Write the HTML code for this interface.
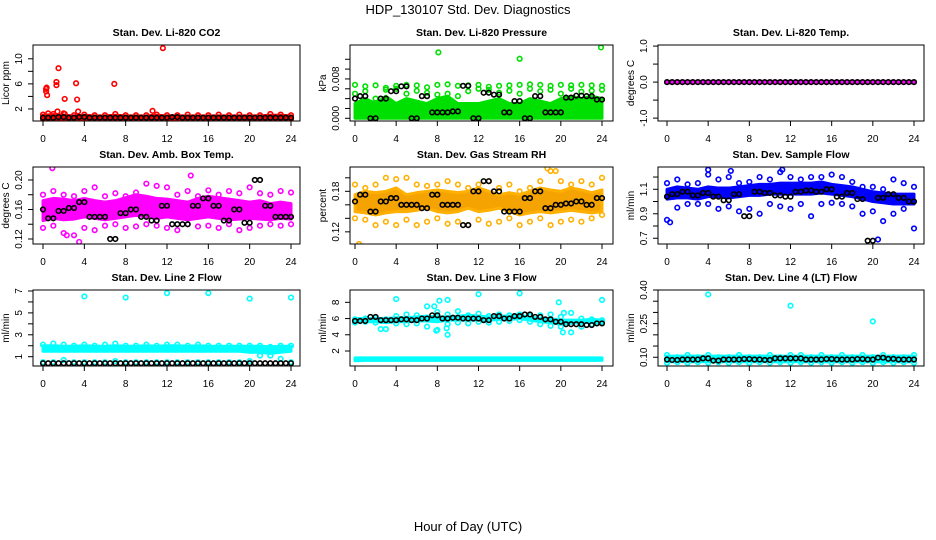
<!DOCTYPE html>
<html><head><meta charset="utf-8">
<style>
html,body{margin:0;padding:0;background:#fff;}
svg{display:block;font-family:"Liberation Sans",Arial,sans-serif;}
</style></head>
<body>
<svg id="chart" width="936" height="540" viewBox="0 0 936 540" xmlns="http://www.w3.org/2000/svg">
<text x="468" y="14" font-size="13" text-anchor="middle">HDP_130107  Std. Dev. Diagnostics</text>
<text x="468" y="531" font-size="13" text-anchor="middle">Hour of Day (UTC)</text>
</svg>
<script>
const hours = [0,1,2,3,4,5,6,7,8,9,10,11,12,13,14,15,16,17,18,19,20,21,22,23,24];
const xTicks = [0,4,8,12,16,20,24];

// Panel 1: CO2
const co2BandLo = [0.3,0.3,0.3,0.3,0.3,0.3,0.3,0.3,0.3,0.3,0.3,0.3,0.3,0.3,0.3,0.3,0.3,0.3,0.3,0.3,0.3,0.3,0.3,0.3,0.3];
const co2BandHi = [1.0,1.1,1.0,0.9,1.0,0.9,0.9,1.0,0.9,0.9,0.9,1.0,0.9,0.9,0.9,0.9,0.9,0.9,0.9,0.9,0.9,0.9,1.0,1.0,0.9];
const co2ScatA = [1.1,1.2,1.3,1.0,1.1,1.0,1.0,1.2,1.0,1.0,1.0,1.1,1.0,1.0,1.1,1.0,1.0,1.1,1.0,1.1,1.0,1.0,1.2,1.1,1.0];
const co2ScatB = [0.4,0.4,0.4,0.4,0.4,0.4,0.4,0.4,0.4,0.4,0.4,0.4,0.4,0.4,0.4,0.4,0.4,0.4,0.4,0.4,0.4,0.4,0.4,0.4,0.4];
const co2Black = [0.6,0.6,0.7,0.6,0.7,0.6,0.6,0.6,0.6,0.6,0.6,0.6,0.6,0.7,0.6,0.6,0.6,0.6,0.6,0.6,0.6,0.6,0.6,0.6,0.6];
const co2OutX = [0.3,0.3,0.35,0.4,1.3,1.3,1.5,2.1,3.2,3.3,1.4,3.4,6.9,10.6,11.6,2.1,0.5];
const co2OutY = [5.2,4.8,5.4,4.2,6.3,5.8,8.5,3.6,6.1,3.5,1.6,1.6,6.0,1.7,11.7,1.2,1.3];

// Panel 2: Pressure
const prBandLo = [0,0,0,0,0,0,0,0,0,0,0,0,0,0,0,0,0,0,0,0,0,0,0,0,0];
const prBandHi = [0.003,0.004,0.003,0.0045,0.003,0.004,0.0035,0.003,0.004,0.0045,0.003,0.003,0.003,0.0035,0.004,0.003,0.003,0.004,0.0035,0.003,0.004,0.0045,0.004,0.0045,0.004];
const prScatA = [0.0068,0.0065,0.0067,0.0062,0.0066,0.0068,0.0067,0.0063,0.0068,0.0069,0.0066,0.0067,0.0068,0.0064,0.0066,0.0067,0.0068,0.0069,0.0068,0.0066,0.0068,0.0067,0.0068,0.0067,0.0066];
const prScatB = [0.005,0.0055,0.004,0.0058,0.006,0.005,0.0056,0.0052,0.0048,0.005,0.0045,0.0055,0.006,0.0058,0.0052,0.0056,0.005,0.006,0.0055,0.0058,0.005,0.006,0.0054,0.0056,0.0058];
const prBlack = [0.004,0.0045,0,0.004,0.0055,0.0065,0,0.0045,0.0012,0.0012,0.0014,0.0066,0,0.0052,0.0048,0.0012,0.0035,0,0.0045,0.0012,0.0012,0.0042,0.0046,0.0045,0.0038];
const prOutX = [8.1,16,23.9];
const prOutY = [0.0134,0.0121,0.0144];

// Panel 3: Temp
const tpBandLo = [-0.02,-0.02,-0.02,-0.02,-0.02,-0.02,-0.02,-0.02,-0.02,-0.02,-0.02,-0.02,-0.02,-0.02,-0.02,-0.02,-0.02,-0.02,-0.02,-0.02,-0.02,-0.02,-0.02,-0.02,-0.02];
const tpBandHi = [0.02,0.02,0.02,0.02,0.02,0.02,0.02,0.02,0.02,0.02,0.02,0.02,0.02,0.02,0.02,0.02,0.02,0.02,0.02,0.02,0.02,0.02,0.02,0.02,0.02];
const tpBlack = [0,0,0,0,0,0,0,0,0,0,0,0,0,0,0,0,0,0,0,0,0,0,0,0,0];

// Panel 4: Amb box temp
const abBandLo = [0.145,0.148,0.146,0.147,0.15,0.148,0.146,0.148,0.15,0.152,0.15,0.148,0.15,0.148,0.146,0.148,0.15,0.148,0.146,0.147,0.148,0.147,0.146,0.148,0.147];
const abBandHi = [0.172,0.175,0.174,0.172,0.175,0.172,0.17,0.172,0.176,0.18,0.178,0.175,0.174,0.172,0.17,0.175,0.178,0.176,0.174,0.172,0.17,0.172,0.168,0.17,0.168];
const abScatA = [0.18,0.185,0.18,0.178,0.185,0.19,0.178,0.182,0.178,0.183,0.195,0.192,0.19,0.18,0.185,0.178,0.186,0.18,0.185,0.182,0.19,0.182,0.18,0.185,0.183];
const abScatB = [0.135,0.138,0.128,0.125,0.135,0.132,0.138,0.14,0.135,0.137,0.14,0.138,0.135,0.132,0.14,0.137,0.138,0.135,0.14,0.132,0.135,0.138,0.14,0.138,0.14];
const abBlack = [0.16,0.148,0.158,0.162,0.17,0.15,0.15,0.12,0.155,0.16,0.15,0.145,0.165,0.14,0.14,0.165,0.175,0.165,0.145,0.16,0.142,0.2,0.165,0.15,0.15];
const abOutX = [0.9,14.3,3.5,2.3];
const abOutY = [0.216,0.206,0.116,0.125];

// Panel 5: RH
const rhBandLo = [0.15,0.148,0.145,0.148,0.15,0.15,0.152,0.155,0.15,0.148,0.15,0.155,0.15,0.152,0.155,0.15,0.145,0.148,0.15,0.148,0.15,0.152,0.15,0.148,0.15];
const rhBandHi = [0.175,0.18,0.178,0.18,0.185,0.175,0.178,0.18,0.182,0.18,0.178,0.18,0.185,0.18,0.175,0.178,0.175,0.18,0.185,0.182,0.18,0.185,0.182,0.178,0.182];
const rhScatA = [0.19,0.185,0.19,0.2,0.198,0.2,0.19,0.188,0.19,0.195,0.19,0.185,0.19,0.195,0.185,0.19,0.18,0.185,0.195,0.21,0.195,0.19,0.195,0.19,0.2];
const rhScatB = [0.14,0.138,0.13,0.135,0.13,0.138,0.13,0.135,0.14,0.132,0.135,0.13,0.138,0.132,0.135,0.14,0.13,0.135,0.14,0.13,0.135,0.138,0.135,0.14,0.145];
const rhBlack = [0.165,0.175,0.15,0.165,0.17,0.16,0.16,0.155,0.175,0.16,0.16,0.13,0.18,0.195,0.18,0.15,0.15,0.17,0.18,0.155,0.16,0.162,0.165,0.16,0.17];
const rhOutX = [0.4,18.7,19.5];
const rhOutY = [0.102,0.214,0.21];

// Panel 6: Sample flow
const sfBandLo = [1.02,1.03,1.03,1.02,1.04,1.04,1.03,1.04,1.05,1.05,1.06,1.06,1.06,1.06,1.06,1.07,1.06,1.05,1.04,1.02,1.0,0.99,0.98,0.98,0.98];
const sfBandHi = [1.1,1.12,1.11,1.1,1.12,1.11,1.11,1.12,1.13,1.14,1.14,1.15,1.15,1.15,1.15,1.16,1.14,1.13,1.12,1.1,1.08,1.07,1.06,1.06,1.06];
const sfScatA = [1.15,1.18,1.14,1.15,1.22,1.18,1.2,1.15,1.16,1.2,1.18,1.24,1.2,1.18,1.2,1.2,1.22,1.2,1.16,1.12,1.12,1.1,1.18,1.15,1.12];
const sfScatB = [0.85,0.95,0.98,0.98,0.98,0.94,0.96,0.92,0.94,0.9,0.98,0.96,0.94,0.98,0.88,0.98,0.99,0.98,0.96,0.9,0.92,0.84,0.9,0.94,0.78];
const sfBlack = [1.04,1.06,1.08,1.05,1.07,1.04,1.01,1.06,0.88,1.08,1.07,1.05,1.04,1.08,1.09,1.08,1.1,1.04,1.07,1.02,0.68,1.03,1.06,1.03,1.0];
const sfOutX = [4,6.2,11.2,0.3,20.5];
const sfOutY = [1.26,1.25,1.26,0.83,0.69];

// Panel 7: Line 2 flow
const l2BandLo = [1.5,1.5,1.5,1.5,1.5,1.5,1.5,1.5,1.5,1.5,1.5,1.5,1.5,1.5,1.5,1.5,1.5,1.5,1.5,1.5,1.4,1.4,1.3,1.4,1.5];
const l2BandHi = [2.0,2.0,1.95,1.95,2.0,1.95,1.95,2.0,1.95,1.95,2.0,1.95,2.0,2.0,1.95,2.0,1.95,1.95,1.95,1.95,1.95,1.95,1.9,1.95,1.95];
const l2ScatA = [2.1,2.2,2.1,2.0,2.1,2.0,2.1,2.2,2.0,2.0,2.1,2.0,2.1,2.1,2.0,2.1,2.0,2.0,2.0,2.0,2.0,2.0,1.9,2.0,2.0];
const l2ScatB = [0.5,0.5,0.7,0.5,0.5,0.5,0.5,0.6,0.5,0.5,0.5,0.5,0.5,0.5,0.5,0.5,0.5,0.5,0.5,0.5,0.6,1.1,1.1,0.8,0.5];
const l2Black = [0.4,0.4,0.4,0.4,0.4,0.4,0.4,0.4,0.4,0.4,0.4,0.4,0.4,0.4,0.4,0.4,0.4,0.4,0.4,0.4,0.4,0.4,0.4,0.4,0.4];
const l2OutX = [4,8,12,16,20,24];
const l2OutY = [6.5,6.4,6.8,6.8,6.3,6.4];

// Panel 8: Line 3 flow
const l3BandLo = [5.6,5.6,5.6,5.5,5.6,5.6,5.7,5.7,5.6,5.8,5.8,5.8,5.8,5.8,5.9,5.9,6.0,5.8,5.6,5.5,5.3,5.4,5.5,5.5,5.4];
const l3BandHi = [6.0,6.0,6.0,6.0,6.1,6.1,6.2,6.3,6.2,6.2,6.3,6.4,6.3,6.2,6.3,6.3,6.4,6.2,6.0,6.0,5.8,5.8,5.8,5.9,5.8];
const l3ScatA = [5.9,6.0,6.1,5.9,6.3,6.5,6.4,7.5,6.8,6.5,6.9,6.4,6.6,6.3,6.5,6.4,6.5,6.3,6.4,6.5,6.2,6.7,6.0,5.9,5.8];
const l3ScatB = [5.5,5.6,5.5,4.7,5.4,5.3,5.4,5.0,4.6,5.3,5.5,5.4,5.6,5.5,5.6,5.7,5.8,5.6,5.3,5.1,5.0,4.3,5.0,5.3,5.5];
const l3Black = [5.7,5.7,6.2,5.8,5.8,5.9,5.8,6.0,6.4,6.0,6.1,6.0,6.0,5.8,6.3,6.0,6.3,6.5,6.2,5.9,5.6,5.3,5.3,5.2,5.4];
const l3LowLo = [0.8,0.85,0.85,0.85,0.85,0.85,0.85,0.85,0.85,0.85,0.85,0.85,0.85,0.85,0.85,0.85,0.85,0.85,0.85,0.85,0.85,0.85,0.85,0.85,0.85];
const l3LowHi = [1.15,1.15,1.15,1.15,1.15,1.15,1.15,1.15,1.15,1.15,1.15,1.15,1.15,1.15,1.15,1.15,1.15,1.15,1.15,1.15,1.15,1.15,1.15,1.15,1.15];
const l3OutX = [4,7.7,7.9,8.2,8.9,9.0,9.0,12,16,19.8,20.3,20.2,24,2.5];
const l3OutY = [8.4,7.5,4.5,8.2,4.8,4.0,8.3,9.0,9.1,8.0,6.7,4.3,8.3,4.7];

// Panel 9: Line 4 flow
const l4BandLo = [0.08,0.08,0.08,0.08,0.08,0.08,0.08,0.08,0.08,0.08,0.08,0.08,0.08,0.08,0.08,0.08,0.08,0.08,0.08,0.08,0.08,0.08,0.08,0.08,0.08];
const l4BandHi = [0.105,0.105,0.105,0.105,0.105,0.105,0.105,0.105,0.105,0.105,0.105,0.105,0.105,0.105,0.105,0.105,0.105,0.105,0.105,0.105,0.105,0.105,0.105,0.105,0.105];
const l4ScatA = [0.11,0.1,0.11,0.1,0.11,0.1,0.1,0.11,0.1,0.1,0.11,0.1,0.11,0.11,0.1,0.11,0.1,0.11,0.1,0.11,0.1,0.11,0.1,0.1,0.11];
const l4ScatB = [0.075,0.078,0.075,0.078,0.075,0.078,0.075,0.078,0.075,0.078,0.075,0.078,0.075,0.078,0.075,0.078,0.075,0.078,0.075,0.078,0.075,0.078,0.075,0.078,0.075];
const l4Black = [0.09,0.088,0.09,0.09,0.095,0.085,0.09,0.09,0.092,0.09,0.088,0.095,0.095,0.095,0.09,0.09,0.092,0.09,0.09,0.092,0.09,0.098,0.093,0.09,0.09];
const l4OutX = [4,12,20];
const l4OutY = [0.38,0.33,0.26];

const NS = 'http://www.w3.org/2000/svg';
const svg = document.getElementById('chart');
function mk(tag, attrs, parent) {
  const e = document.createElementNS(NS, tag);
  for (const k in attrs) e.setAttribute(k, attrs[k]);
  (parent || svg).appendChild(e);
  return e;
}
const cols = [{l:33,r:300,x0:43,x1:291},{l:350,r:613,x0:355,x1:602},{l:658,r:924,x0:667,x1:914}];
const rows = [{t:45,b:121},{t:167,b:244},{t:290,b:366}];

function panel(p) {
  const c = cols[p.col], r = rows[p.row];
  const g = mk('g', {});
  
  
  const xs = h => c.x0 + (c.x1 - c.x0) * h / 24;
  const ys = v => r.b - (v - p.ymin) / (p.ymax - p.ymin) * (r.b - r.t);
  const clip = 'clip' + p.col + p.row;
  const cp = mk('clipPath', {id: clip}, g);
  mk('rect', {x: c.l, y: r.t, width: c.r - c.l, height: r.b - r.t}, cp);
  const plot = mk('g', {'clip-path': 'url(#' + clip + ')'}, g);
  function band(lo, hi, nm) {
    let pts = hours.map((h, i) => xs(h) + ',' + ys(hi[i]));
    pts = pts.concat(hours.slice().reverse().map((h, j) => { const i = hours.length - 1 - j; return xs(h) + ',' + ys(lo[i]); }));
    const pg = mk('polygon', {points: pts.join(' '), fill: p.fill, stroke: p.color, 'stroke-width': 3, 'stroke-linejoin': 'round'}, plot);
    
    
  }
  function pts(xArr, yArr, col, nm) {
    yArr.forEach((v, i) => {
      const ci = mk('circle', {cx: xs(xArr[i]), cy: ys(v), r: 2.3, fill: 'none', stroke: col, 'stroke-width': 1.6}, plot);
      
      
    });
  }
  band(p.lo, p.hi, 'data-band');
  if (p.low) band(p.low[0], p.low[1], 'low-band');
  if (p.a) pts(hours, p.a, p.color, 'point-upper');
  if (p.b) pts(hours, p.b, p.color, 'point-lower');
  if (p.ox) pts(p.ox, p.oy, p.color, 'outlier-point');
  const bx = hours.slice(0, 24).map(h => h + 0.5);
  pts(hours, p.black, '#000', 'mean-point');
  pts(bx, p.black.slice(1), '#000', 'mean-point');
  const bxr = mk('rect', {x: c.l, y: r.t, width: c.r - c.l, height: r.b - r.t, fill: 'none', stroke: '#000', 'stroke-width': 1}, g);
  
  
  const tt = mk('text', {x: (c.l + c.r) / 2, y: r.t - 9, 'font-size': 10.5, 'font-weight': 'bold', 'text-anchor': 'middle'}, g);
  tt.textContent = p.title;
  
  
  const ax = mk('g', {stroke: '#000', 'stroke-width': 1}, g);
  
  
  mk('line', {x1: c.x0, x2: c.x1, y1: r.b, y2: r.b}, ax);
  xTicks.forEach(t => {
    mk('line', {x1: xs(t), x2: xs(t), y1: r.b, y2: r.b + 5}, ax);
    const tx = mk('text', {x: xs(t), y: r.b + 21, 'font-size': 10, 'text-anchor': 'middle', stroke: 'none'}, g);
    tx.textContent = t;
    
    
  });
  const ay = mk('g', {stroke: '#000', 'stroke-width': 1}, g);
  
  
  mk('line', {x1: c.l, x2: c.l, y1: ys(p.yt[0]), y2: ys(p.yt[p.yt.length - 1])}, ay);
  p.yt.forEach(t => mk('line', {x1: c.l - 5, x2: c.l, y1: ys(t), y2: ys(t)}, ay));
  p.yl.forEach((t, i) => {
    const lx = c.l - 11, ly = ys(p.ylv[i]);
    const tx = mk('text', {x: lx, y: ly, 'font-size': 10, 'text-anchor': 'middle', transform: 'rotate(-90 ' + lx + ' ' + ly + ')'}, g);
    tx.textContent = t;
    
    
  });
  const yx = c.l - 24, yy = (r.t + r.b) / 2;
  const yt = mk('text', {x: yx, y: yy, 'font-size': 10, 'text-anchor': 'middle', transform: 'rotate(-90 ' + yx + ' ' + yy + ')'}, g);
  yt.textContent = p.ylab;
  
  
}

panel({name:'panel-co2',col:0,row:0,title:'Stan. Dev. Li-820 CO2',ylab:'Licor ppm',ymin:0.08,ymax:12.2,yt:[2,4,6,8,10],yl:['2','6','10'],ylv:[2,6,10],color:'#ff0000',fill:'#ff0000',lo:co2BandLo,hi:co2BandHi,a:co2ScatA,b:co2ScatB,black:co2Black,ox:co2OutX,oy:co2OutY});
panel({name:'panel-pressure',col:1,row:0,title:'Stan. Dev. Li-820 Pressure',ylab:'kPa',ymin:-0.00055,ymax:0.0149,yt:[0,0.002,0.004,0.006,0.008,0.010,0.012],yl:['0.000','0.008'],ylv:[0,0.008],color:'#00e000',fill:'#00e000',lo:prBandLo,hi:prBandHi,a:prScatA,b:prScatB,black:prBlack,ox:prOutX,oy:prOutY});
panel({name:'panel-temp',col:2,row:0,title:'Stan. Dev. Li-820 Temp.',ylab:'degrees C',ymin:-1.08,ymax:1.03,yt:[-1,-0.5,0,0.5,1],yl:['-1.0','0.0','1.0'],ylv:[-1,0,1],color:'#ff00ff',fill:'#ff00ff',lo:tpBandLo,hi:tpBandHi,black:tpBlack});
panel({name:'panel-ambbox',col:0,row:1,title:'Stan. Dev. Amb. Box Temp.',ylab:'degrees C',ymin:0.1132,ymax:0.2176,yt:[0.12,0.14,0.16,0.18,0.20],yl:['0.12','0.16','0.20'],ylv:[0.12,0.16,0.20],color:'#ff00ff',fill:'#ff00ff',lo:abBandLo,hi:abBandHi,a:abScatA,b:abScatB,black:abBlack,ox:abOutX,oy:abOutY});
panel({name:'panel-rh',col:1,row:1,title:'Stan. Dev. Gas Stream RH',ylab:'percent',ymin:0.102,ymax:0.216,yt:[0.12,0.14,0.16,0.18,0.20],yl:['0.12','0.18'],ylv:[0.12,0.18],color:'#ffb000',fill:'#f5a300',lo:rhBandLo,hi:rhBandHi,a:rhScatA,b:rhScatB,black:rhBlack,ox:rhOutX,oy:rhOutY});
panel({name:'panel-sampleflow',col:2,row:1,title:'Stan. Dev. Sample Flow',ylab:'ml/min',ymin:0.653,ymax:1.282,yt:[0.7,0.8,0.9,1.0,1.1,1.2],yl:['0.7','0.9','1.1'],ylv:[0.7,0.9,1.1],color:'#0000ff',fill:'#0000ff',lo:sfBandLo,hi:sfBandHi,a:sfScatA,b:sfScatB,black:sfBlack,ox:sfOutX,oy:sfOutY});
panel({name:'panel-line2',col:0,row:2,title:'Stan. Dev. Line 2 Flow',ylab:'ml/min',ymin:0.15,ymax:7.09,yt:[1,2,3,4,5,6,7],yl:['1','3','5','7'],ylv:[1,3,5,7],color:'#00ffff',fill:'#00ffff',lo:l2BandLo,hi:l2BandHi,a:l2ScatA,b:l2ScatB,black:l2Black,ox:l2OutX,oy:l2OutY});
panel({name:'panel-line3',col:1,row:2,title:'Stan. Dev. Line 3 Flow',ylab:'ml/min',ymin:0.15,ymax:9.52,yt:[2,4,6,8],yl:['2','4','6','8'],ylv:[2,4,6,8],color:'#00ffff',fill:'#00ffff',lo:l3BandLo,hi:l3BandHi,low:[l3LowLo,l3LowHi],a:l3ScatA,b:l3ScatB,black:l3Black,ox:l3OutX,oy:l3OutY});
panel({name:'panel-line4',col:2,row:2,title:'Stan. Dev. Line 4 (LT) Flow',ylab:'ml/min',ymin:0.061,ymax:0.40,yt:[0.10,0.15,0.20,0.25,0.30,0.35,0.40],yl:['0.10','0.25','0.40'],ylv:[0.10,0.25,0.40],color:'#00ffff',fill:'#00ffff',lo:l4BandLo,hi:l4BandHi,a:l4ScatA,b:l4ScatB,black:l4Black,ox:l4OutX,oy:l4OutY});
</script>
</body></html>
